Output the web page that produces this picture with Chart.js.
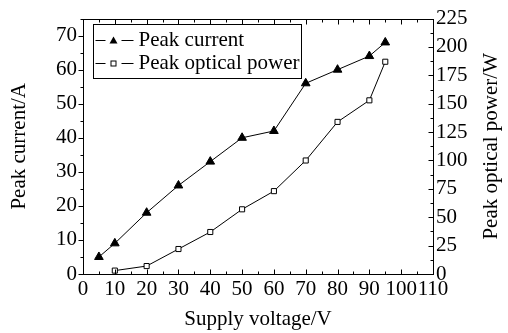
<!DOCTYPE html>
<html>
<head>
<meta charset="utf-8">
<script src="https://cdn.jsdelivr.net/npm/chart.js@4/dist/chart.umd.min.js"></script>
<style>
html,body{margin:0;padding:0;background:#fff;}
canvas{display:block;}
</style>
</head>
<body>
<canvas id="c" width="508" height="333"></canvas>
<script>
// ---- data ----
const voltageCurrent = [5, 10, 20, 30, 40, 50, 60, 70, 80, 90, 95];
const peakCurrent    = [5, 9, 18, 26, 33, 40, 42, 56, 60, 64, 68];
const voltagePower   = [10, 20, 30, 40, 50, 60, 70, 80, 90, 95];
const peakPower      = [3, 7, 22, 37, 57, 73, 100, 134, 153, 187];
const xTicks     = [0, 10, 20, 30, 40, 50, 60, 70, 80, 90, 100, 110];
const leftTicks  = [0, 10, 20, 30, 40, 50, 60, 70];
const rightTicks = [0, 25, 50, 75, 100, 125, 150, 175, 200, 225];
const seriesNames = ['Peak current', 'Peak optical power'];
const xTitle = 'Supply voltage/V';
const leftTitle = 'Peak current/A';
const rightTitle = 'Peak optical power/W';

const FONT = {family: 'Liberation Serif', size: 21};
const INK = '#000';

function pts(xs, ys) { return xs.map((x, i) => ({x: x, y: ys[i]})); }

function line(ctx, x1, y1, x2, y2) {
  ctx.beginPath(); ctx.moveTo(x1, y1); ctx.lineTo(x2, y2); ctx.stroke();
}

const framePlugin = {
  id: 'frameTicks',
  afterDraw(chart) {
    const ctx = chart.ctx, ca = chart.chartArea;
    const sx = chart.scales.x, sy = chart.scales.y, sy2 = chart.scales.y2;
    const L = Math.round(ca.left) + 0.5, R = Math.round(ca.right) + 0.5;
    const T = Math.round(ca.top) + 0.5, B = Math.round(ca.bottom) + 0.5;
    ctx.save();
    ctx.strokeStyle = INK; ctx.lineWidth = 1;
    ctx.strokeRect(L, T, R - L, B - T);
    // x ticks (inward, bottom & top)
    for (let v = sx.min; v <= sx.max; v += 5) {
      const p = Math.round(sx.getPixelForValue(v)) + 0.5;
      const len = (v % 10 === 0) ? 5 : 3;
      line(ctx, p, B, p, B - len);
      line(ctx, p, T, p, T + len);
    }
    // left y ticks (outward)
    for (let v = sy.min; v <= sy.max; v += 5) {
      const p = Math.round(sy.getPixelForValue(v)) + 0.5;
      const len = (v % 10 === 0) ? 5 : 3;
      line(ctx, L, p, L - len, p);
    }
    // right y ticks (inward)
    for (let v = sy2.min; v <= sy2.max; v += 12.5) {
      const p = Math.round(sy2.getPixelForValue(v)) + 0.5;
      const len = (v % 25 === 0) ? 5 : 3;
      line(ctx, R, p, R - len, p);
    }
    // right axis title, reading bottom-to-top
    ctx.font = FONT.size + 'px ' + FONT.family;
    ctx.fillStyle = INK;
    ctx.textAlign = 'center';
    ctx.textBaseline = 'middle';
    ctx.save();
    ctx.translate(sy2.right - 17, (ca.top + ca.bottom) / 2);
    ctx.rotate(-Math.PI / 2);
    ctx.fillText(rightTitle, 0, 0);
    ctx.restore();
    // legend box
    const bx = Math.round(ca.left) + 10.5, by = Math.round(ca.top) + 5.5;
    const textX = bx + 45;
    const tw = Math.max(...seriesNames.map(s => ctx.measureText(s).width));
    const bw = Math.round(textX - bx + tw + 2), bh = 54;
    ctx.fillStyle = '#fff';
    ctx.fillRect(bx, by, bw, bh);
    ctx.strokeRect(bx, by, bw, bh);
    const rows = [by + 15, by + 38];
    ctx.fillStyle = INK;
    ctx.textBaseline = 'middle';
    ctx.textAlign = 'left';
    rows.forEach((ry, i) => {
      const y = Math.round(ry) + 0.5;
      line(ctx, bx + 2, y, bx + 12, y);
      line(ctx, bx + 28, y, bx + 40, y);
      const cx = bx + 20;
      if (i === 0) {
        ctx.beginPath();
        ctx.moveTo(cx, y - 4); ctx.lineTo(cx + 4, y + 3); ctx.lineTo(cx - 4, y + 3);
        ctx.closePath(); ctx.fill();
      } else {
        ctx.fillStyle = '#fff';
        ctx.fillRect(cx - 2.5, y - 2.5, 5, 5);
        ctx.strokeRect(cx - 2.5, y - 2.5, 5, 5);
        ctx.fillStyle = INK;
      }
      ctx.fillText(seriesNames[i], textX, ry + 1);
    });
    ctx.restore();
  }
};

new Chart(document.getElementById('c'), {
  type: 'line',
  data: {
    datasets: [
      {
        label: seriesNames[0],
        data: pts(voltageCurrent, peakCurrent),
        yAxisID: 'y',
        borderColor: INK, borderWidth: 1, tension: 0,
        pointStyle: 'triangle', pointRadius: 5,
        pointBackgroundColor: INK, pointBorderColor: INK, pointBorderWidth: 1
      },
      {
        label: seriesNames[1],
        data: pts(voltagePower, peakPower),
        yAxisID: 'y2',
        borderColor: INK, borderWidth: 1, tension: 0,
        pointStyle: 'rect', pointRadius: 3.6,
        pointBackgroundColor: '#fff', pointBorderColor: INK, pointBorderWidth: 1
      }
    ]
  },
  options: {
    responsive: false,
    animation: false,
    devicePixelRatio: 1,
    layout: {padding: {top: 17, left: 0, right: 0, bottom: 0}},
    plugins: {legend: {display: false}, tooltip: {enabled: false}},
    scales: {
      x: {
        type: 'linear', min: 0, max: 110,
        afterBuildTicks: s => { s.ticks = xTicks.map(v => ({value: v})); },
        afterFit: s => { s.height = 59; },
        ticks: {autoSkip: false, maxRotation: 0, padding: 3, color: INK, font: FONT},
        grid: {display: false, drawTicks: false},
        border: {display: false},
        title: {display: true, text: xTitle, color: INK, font: FONT, padding: {top: 0, bottom: 1}}
      },
      y: {
        position: 'left', min: 0, max: 75,
        afterBuildTicks: s => { s.ticks = leftTicks.map(v => ({value: v})); },
        afterFit: s => { s.width = 83; },
        ticks: {autoSkip: false, padding: 6, color: INK, font: FONT},
        grid: {display: false, drawTicks: false},
        border: {display: false},
        title: {display: true, text: leftTitle, color: INK, font: FONT, padding: {top: 7, bottom: 0}}
      },
      y2: {
        position: 'right', min: 0, max: 225,
        afterBuildTicks: s => { s.ticks = rightTicks.map(v => ({value: v})); },
        afterFit: s => { s.width = 75; },
        ticks: {autoSkip: false, padding: 3, color: INK, font: FONT},
        grid: {display: false, drawTicks: false},
        border: {display: false},
        title: {display: false, text: rightTitle}
      }
    }
  },
  plugins: [framePlugin]
});
</script>
</body>
</html>
